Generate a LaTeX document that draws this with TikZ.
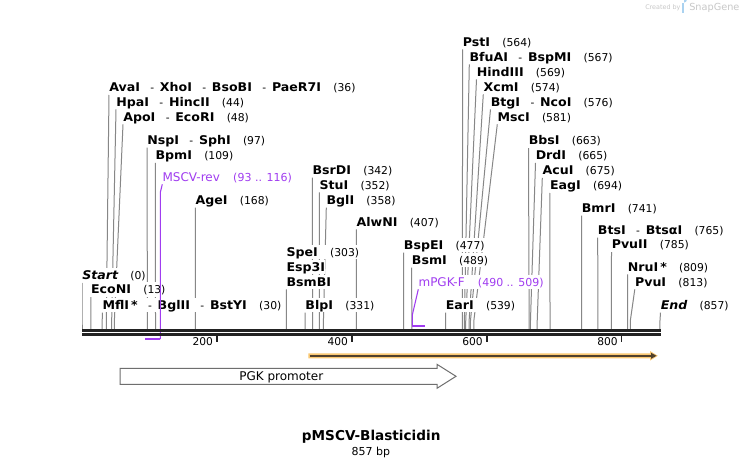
\documentclass[tikz,border=0pt]{standalone}
\usepackage{fontspec}
\setmainfont{DejaVu Sans}
\newfontfamily\enzf[FakeStretch=1.05]{DejaVu Sans}
\usetikzlibrary{arrows.meta}
\pgfdeclarelayer{bg}
\pgfsetlayers{bg,main}
\definecolor{cutgray}{RGB}{135,135,135}
\definecolor{primer}{RGB}{160,60,240}
\definecolor{bbone}{RGB}{34,34,34}
\definecolor{orfband}{RGB}{250,200,115}
\definecolor{orfdark}{RGB}{80,65,45}
\definecolor{promo}{RGB}{110,110,110}
\definecolor{wm}{RGB}{200,200,200}
\definecolor{wmlogo}{RGB}{170,210,240}
\newcommand{\nm}[1]{{\enzf\bfseries #1}}
\newcommand{\nmi}[1]{{\enzf\bfseries\itshape #1}}
\newcommand{\sep}{\hspace{7.8pt}{\fontsize{8}{9}\selectfont -}\hspace{4.3pt}}
\newcommand{\bpn}[1]{\hspace{9.2pt}{\fontsize{8.1}{9}\selectfont(#1)}}
\newcommand{\site}[5]{%
  \node[lab] (#1) at (#2,#3+4.4) {#5};
  \coordinate (#1-k) at ({82+#4*0.6744},321);
  \coordinate (#1-b) at ({82+#4*0.6744},329);
  \begin{pgfonlayer}{bg}
    \draw[cut] (#1.south west) -- (#1-k) -- (#1-b);
  \end{pgfonlayer}
}
\begin{document}
\begin{tikzpicture}[x=0.75pt,y=-0.75pt,
  lab/.style={anchor=base west, inner xsep=0pt, inner ysep=0pt, fill=white,
    text height=8.6pt, text depth=2.2pt, font=\fontsize{9}{10}\selectfont},
  cut/.style={draw=cutgray, line width=0.75pt},
  plab/.style={lab, text=primer},
  pline/.style={draw=primer, line width=0.8pt},
  pbar/.style={draw=primer, line width=1.6pt},
  bbline/.style={draw=bbone, line width=2pt},
  tick/.style={draw=bbone, line width=1.4pt},
  rlab/.style={anchor=base east, inner sep=0pt, font=\fontsize{8}{9}\selectfont}]
\begin{pgfonlayer}{bg}
  \fill[white] (0,0) rectangle (743,468);
\end{pgfonlayer}
\useasboundingbox (0,0) rectangle (743,468);

% watermark
\node[anchor=base west, inner sep=0pt, text=wm, font=\fontsize{4.8}{5}\selectfont] (cb) at (645,9.5) {Created by};
\fill[wmlogo] (682,2.5) rectangle (684.2,12.5);
\fill[wmlogo] (684.2,2.5) arc[start angle=90,end angle=-90,radius=2.6] -- cycle;
\node[anchor=base west, inner sep=0pt, text=wm, font=\fontsize{7.3}{8}\selectfont] (sg) at (689,10.6) {SnapGene};

% enzyme sites
\site{ava}{109}{87.3}{36}{\nm{AvaI}\sep\nm{XhoI}\sep\nm{BsoBI}\sep\nm{PaeR7I}\bpn{36}}
\site{hpa}{116}{101.8}{44}{\nm{HpaI}\sep\nm{HincII}\bpn{44}}
\site{apo}{123}{116.8}{48}{\nm{ApoI}\sep\nm{EcoRI}\bpn{48}}
\site{nsp}{147}{140}{97}{\nm{NspI}\sep\nm{SphI}\bpn{97}}
\site{bpm}{155.3}{155.3}{109}{\nm{BpmI}\bpn{109}}
\site{age}{195.3}{200}{168}{\nm{AgeI}\bpn{168}}
\site{startl}{82}{275}{0}{\nmi{Start}\bpn{0}}
\site{econi}{90.8}{289.5}{13}{\nm{EcoNI}\bpn{13}}
\site{mfl}{102.3}{305}{30}{\nm{MflI\,*}\sep\nm{BglII}\sep\nm{BstYI}\bpn{30}}

\node[lab] (spe) at (286.3,251.7+4.4) {\nm{SpeI}\bpn{303}};
\node[lab] (esp) at (286.3,266.7+4.4) {\nm{Esp3I}};
\site{bsmb}{286.3}{281.7}{303}{\nm{BsmBI}}
\site{blp}{305.2}{305}{331}{\nm{BlpI}\bpn{331}}
\site{bsrd}{312.3}{170}{342}{\nm{BsrDI}\bpn{342}}
\site{stu}{319.3}{184.8}{352}{\nm{StuI}\bpn{352}}
\site{bgl}{326.3}{200}{358}{\nm{BglI}\bpn{358}}
\site{alw}{356.3}{221.7}{407}{\nm{AlwNI}\bpn{407}}
\site{bspe}{403.7}{245}{477}{\nm{BspEI}\bpn{477}}
\site{bsm}{411.7}{260}{489}{\nm{BsmI}\bpn{489}}
\site{ear}{445.5}{305}{539}{\nm{EarI}\bpn{539}}

\site{pst}{462.6}{41.7}{564}{\nm{PstI}\bpn{564}}
\site{bfu}{469.3}{56.7}{567}{\nm{BfuAI}\sep\nm{BspMI}\bpn{567}}
\site{hind}{476.5}{71.7}{569}{\nm{HindIII}\bpn{569}}
\site{xcm}{483.3}{86.7}{574}{\nm{XcmI}\bpn{574}}
\site{btg}{490.5}{101.7}{576}{\nm{BtgI}\sep\nm{NcoI}\bpn{576}}
\site{msc}{497.3}{116.7}{581}{\nm{MscI}\bpn{581}}

\site{bbs}{528.5}{140.5}{663}{\nm{BbsI}\bpn{663}}
\site{drd}{535.5}{155.3}{665}{\nm{DrdI}\bpn{665}}
\site{acu}{542.3}{170.3}{675}{\nm{AcuI}\bpn{675}}
\site{eag}{549.8}{185.3}{694}{\nm{EagI}\bpn{694}}
\site{bmr}{581.6}{208}{741}{\nm{BmrI}\bpn{741}}
\site{bts}{597.7}{230}{765}{\nm{BtsI}\sep\nm{BtsαI}\bpn{765}}
\site{pvuii}{611.5}{244.5}{785}{\nm{PvuII}\bpn{785}}
\site{nru}{627.6}{266.7}{809}{\nm{NruI\,*}\bpn{809}}
\site{pvui}{634.8}{281.7}{813}{\nm{PvuI}\bpn{813}}
\site{endl}{660.5}{305}{857}{\nmi{End}\bpn{857}}

% primers
\node[plab] (mscv) at (162.3,176.7+4.4) {MSCV-rev\hspace{10pt}{\fontsize{8.25}{9}\selectfont(93 .. 116)}};
\coordinate (mscv-k) at (160.4,192);
\coordinate (mscv-d) at (160.4,339);
\coordinate (mscv-e) at (144.7,339);
\draw[pline] (mscv.south west) -- (mscv-k) -- (mscv-d);
\draw[pbar] (mscv-d) -- (mscv-e);

\node[plab] (mpgk) at (418.3,281.7+4.4) {mPGK-F\hspace{10pt}{\fontsize{8.25}{9}\selectfont(490 .. 509)}};
\coordinate (mpgk-k) at (412.3,315);
\coordinate (mpgk-d) at (412.3,325.7);
\coordinate (mpgk-e) at (425.3,325.7);
\draw[pline] (mpgk.south west) -- (mpgk-k) -- (mpgk-d);
\draw[pbar] (mpgk-d) -- (mpgk-e);

% backbone
\coordinate (bbL1) at (82,330.4);
\coordinate (bbR1) at (660.7,330.4);
\coordinate (bbL2) at (82,334.4);
\coordinate (bbR2) at (660.7,334.4);
\draw[bbline] (bbL1) -- (bbR1);
\draw[bbline] (bbL2) -- (bbR2);

% ruler
\foreach \v in {200,400,600,800}{
  \coordinate (t\v a) at ({82+\v*0.6744},335.5);
  \coordinate (t\v b) at ({82+\v*0.6744},341.8);
  \draw[tick] (t\v a) -- (t\v b);
  \node[rlab] (r\v) at ({82+\v*0.6744-3.6},345.6) {\v};
}

% ORF arrow
\fill[orfband] (308.3,353.3) -- (650,353.3) -- (650,351) -- (657.8,355.8) -- (650,360.6) -- (650,358.3) -- (308.3,358.3) -- cycle;
\draw[orfdark, line width=1.5pt] (309.5,355.8) -- (651.5,355.8);
\fill[orfdark] (651,352.8) -- (656.5,355.8) -- (651,358.8) -- cycle;

% PGK promoter
\draw[promo, fill=white, line width=0.75pt] (120,368.3) -- (437,368.3) -- (437,364.3) -- (456,376.3) -- (437,388.3) -- (437,384.3) -- (120,384.3) -- cycle;
\node[inner sep=0pt, font=\fontsize{9}{10}\selectfont, anchor=base] (pgk) at (281.3,380) {PGK promoter};

% title
\node[inner sep=0pt, anchor=base, font=\fontsize{10.2}{12}\selectfont\bfseries] (title) at (371.2,440.7) {pMSCV-Blasticidin};
\node[inner sep=0pt, anchor=base, font=\fontsize{8.25}{10}\selectfont] (size) at (370.8,455.7) {857 bp};
\end{tikzpicture}
\end{document}
